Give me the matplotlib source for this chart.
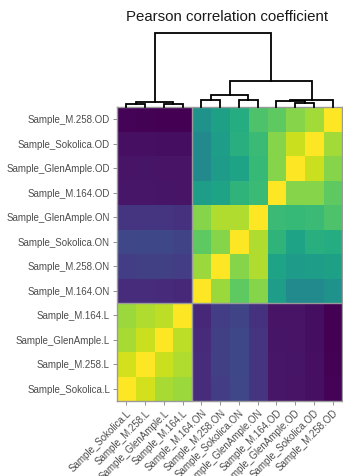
import numpy as np
import matplotlib
matplotlib.use("Agg")
import matplotlib.pyplot as plt

plt.rcParams['font.family'] = ['Liberation Sans', 'DejaVu Sans']

# Muestras en el orden de las hojas del dendrograma
muestras = ["Sample_Sokolica.L", "Sample_M.258.L", "Sample_GlenAmple.L", "Sample_M.164.L",
            "Sample_M.164.ON", "Sample_M.258.ON", "Sample_Sokolica.ON", "Sample_GlenAmple.ON",
            "Sample_M.164.OD", "Sample_GlenAmple.OD", "Sample_Sokolica.OD", "Sample_M.258.OD"]

# Matriz de correlacion de Pearson (mismo orden que las muestras)
corr = [
    [1.000, 0.979, 0.961, 0.955, 0.738, 0.755, 0.764, 0.745, 0.718, 0.716, 0.712, 0.703],
    [0.979, 1.000, 0.976, 0.964, 0.738, 0.757, 0.765, 0.746, 0.718, 0.717, 0.712, 0.702],
    [0.961, 0.976, 1.000, 0.970, 0.736, 0.757, 0.765, 0.746, 0.717, 0.716, 0.711, 0.701],
    [0.955, 0.964, 0.970, 1.000, 0.735, 0.754, 0.762, 0.743, 0.716, 0.716, 0.711, 0.700],
    [0.738, 0.738, 0.736, 0.735, 1.000, 0.955, 0.925, 0.946, 0.868, 0.844, 0.844, 0.853],
    [0.755, 0.757, 0.757, 0.754, 0.955, 1.000, 0.946, 0.964, 0.874, 0.865, 0.868, 0.871],
    [0.764, 0.765, 0.765, 0.762, 0.925, 0.946, 1.000, 0.964, 0.895, 0.874, 0.889, 0.886],
    [0.745, 0.746, 0.746, 0.743, 0.946, 0.964, 0.964, 1.000, 0.904, 0.901, 0.904, 0.916],
    [0.718, 0.718, 0.717, 0.716, 0.868, 0.874, 0.895, 0.904, 1.000, 0.946, 0.946, 0.925],
    [0.716, 0.717, 0.716, 0.716, 0.844, 0.865, 0.874, 0.901, 0.946, 1.000, 0.976, 0.946],
    [0.712, 0.712, 0.711, 0.711, 0.844, 0.868, 0.889, 0.904, 0.946, 0.976, 1.000, 0.958],
    [0.703, 0.702, 0.701, 0.700, 0.853, 0.871, 0.886, 0.916, 0.925, 0.946, 0.958, 1.000],
]

# Uniones del clustering: (nodo izq, nodo der, altura); nodos >= 12 son clusters
uniones = [
    (0, 1, 0.040), (2, 3, 0.035), (12, 13, 0.068),
    (4, 5, 0.095), (6, 7, 0.095), (15, 16, 0.162),
    (9, 10, 0.055), (8, 18, 0.080), (19, 11, 0.095),
    (17, 20, 0.351), (14, 21, 1.000),
]
n_grupos_corte = 4  # frontera entre grupo L y grupo ON/OD

M = np.array(corr)
n = len(muestras)

W, H = 343, 476
fig = plt.figure(figsize=(W / 100, H / 100), dpi=100)

# Heatmap
x0, x1, y0, y1 = 117, 342, 107, 401
ax = fig.add_axes([x0 / W, 1 - y1 / H, (x1 - x0) / W, (y1 - y0) / H])
ax.imshow(M, cmap='viridis', origin='lower', aspect='auto', interpolation='nearest',
          vmin=M.min(), vmax=M.max())
ax.set_xticks(range(n))
ax.set_xticklabels(muestras, rotation=45, ha='right', va='top', rotation_mode='anchor')
ax.set_yticks(range(n))
ax.set_yticklabels(muestras)
ax.tick_params(labelsize=7, colors='#4d4d4d', length=3, width=0.6, color='#7f7f7f', pad=2)
for s in ax.spines.values():
    s.set_edgecolor('#9a9a9a')
    s.set_linewidth(1.0)
# lineas de corte entre los dos grupos
ax.axvline(n_grupos_corte - 0.5, color='#9a9a9a', lw=1.0)
ax.axhline(n_grupos_corte - 0.5, color='#9a9a9a', lw=1.0)
ax.set_xlim(-0.5, n - 0.5)
ax.set_ylim(-0.5, n - 0.5)

# Dendrograma de columnas
alto_px = 80
axd = fig.add_axes([x0 / W, 1 - y0 / H, (x1 - x0) / W, alto_px / H])
pos = {i: (float(i), 0.0) for i in range(n)}
for k, (a, b, h) in enumerate(uniones):
    xa, ha = pos[a]
    xb, hb = pos[b]
    axd.plot([xa, xa, xb, xb], [ha, h, h, hb], color='black', lw=1.3,
             solid_joinstyle='miter', clip_on=False)
    pos[n + k] = ((xa + xb) / 2, h)
axd.set_xlim(-0.5, n - 0.5)
axd.set_ylim(0, 1.0 * alto_px / 74)
axd.axis('off')

fig.text(227.5 / W, 1 - 17 / H, "Pearson correlation coefficient", ha='center', va='center',
         fontsize=10.8, color='#1a1a1a')

fig.savefig("out.png", dpi=100)
